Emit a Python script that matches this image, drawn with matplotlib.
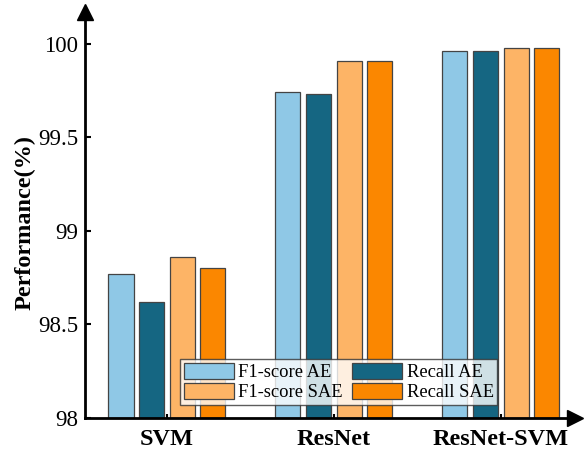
import matplotlib
matplotlib.use("Agg")
import matplotlib.pyplot as plt
import numpy as np

plt.rcParams['font.family'] = ['Liberation Serif', 'DejaVu Serif']
plt.rcParams['mathtext.fontset'] = 'stix'

models = ["SVM", "ResNet", "ResNet-SVM"]
series_names = ["F1-score AE", "Recall AE", "F1-score SAE", "Recall SAE"]
f1_ae = [98.77, 99.74, 99.96]
recall_ae = [98.62, 99.73, 99.96]
f1_sae = [98.86, 99.91, 99.98]
recall_sae = [98.80, 99.91, 99.98]
y_ticks = [98, 98.5, 99, 99.5, 100]
y_tick_labels = ["98", "98.5", "99", "99.5", "100"]

colors = ["#8fc8e6", "#156682", "#fdb466", "#fb8700"]
series = [f1_ae, recall_ae, f1_sae, recall_sae]

fig = plt.figure(figsize=(5.85, 4.51), dpi=100)
ax = fig.add_axes([0.1453, 0.0732, 0.8377, 0.9002])

x = np.arange(len(models))
slot = 0.183
width = 0.15
bars = []
for i, (vals, c, name) in enumerate(zip(series, colors, series_names)):
    off = (i - 1.5) * slot
    b = ax.bar(x + off, np.array(vals) - 98, width=width, bottom=98, color=c,
               edgecolor="#444444", linewidth=0.9, label=name, zorder=2)
    bars.append(b)

ax.set_xlim(-0.49, 2.445)
ax.set_ylim(98, 100.17)
ax.set_yticks(y_ticks)
ax.set_yticklabels(y_tick_labels, fontsize=16.5)
ax.set_xticks(x)
ax.set_xticklabels(models, fontsize=17.5, fontweight="bold")
ax.tick_params(axis="y", direction="in", length=4, width=1.5, pad=5)
ax.tick_params(axis="x", direction="in", length=3, width=1.5, pad=8)
ax.set_ylabel("Performance(%)", fontsize=17.5, fontweight="bold", labelpad=2)
ax.yaxis.set_label_coords(-0.101, 0.482)

for s in ["top", "right"]:
    ax.spines[s].set_visible(False)
for s in ["left", "bottom"]:
    ax.spines[s].set_linewidth(2)
    ax.spines[s].set_zorder(3)

# arrow heads at the ends of both axes
ax.plot(0, 1, marker="^", markersize=11, color="black", transform=ax.transAxes,
        clip_on=False, zorder=4)
ax.plot(1, 0, marker=">", markersize=11, color="black", transform=ax.transAxes,
        clip_on=False, zorder=4)

handles = [bars[0], bars[2], bars[1], bars[3]]
labels = [series_names[0], series_names[2], series_names[1], series_names[3]]
leg = ax.legend(handles, labels, ncol=2, fontsize=13.3, loc="lower left",
                bbox_to_anchor=(0.194, 0.032), frameon=True, fancybox=False,
                edgecolor="#333333", handlelength=2.7, handleheight=0.95,
                columnspacing=0.5, handletextpad=0.25, borderpad=0.2,
                labelspacing=0.1, borderaxespad=0)
leg.get_frame().set_linewidth(1.0)
leg.set_zorder(5)

fig.savefig("out.png", dpi=100)
